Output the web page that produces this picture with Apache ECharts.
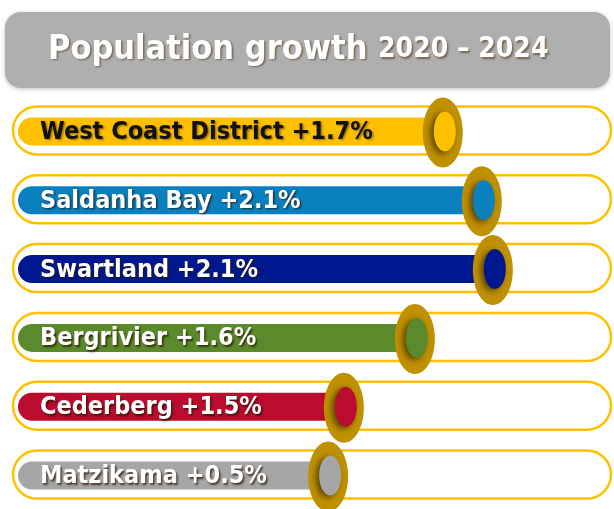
<!DOCTYPE html>
<html>
<head>
<meta charset="utf-8">
<script src="https://cdn.jsdelivr.net/npm/echarts@6/dist/echarts.min.js"></script>
<style>
  html, body { margin: 0; padding: 0; background: #fff; }
  #chart { width: 614px; height: 509px; }
</style>
</head>
<body>
<div id="chart"></div>
<script>
// values
var districts = ['West Coast District', 'Saldanha Bay', 'Swartland', 'Bergrivier', 'Cederberg', 'Matzikama'];
var growth = [1.7, 2.1, 2.1, 1.6, 1.5, 0.5];
// how far each bar reaches along its track, as drawn (0-100)
var barLevel = [72.3, 79.0, 80.9, 67.5, 55.3, 52.6];

var barColors = ['#FFC000', '#0A80BE', '#00188F', '#5B8A2C', '#BA0C2F', '#A6A6A6'];
var labelColors = ['#111', '#fff', '#fff', '#fff', '#fff', '#fff'];
var knobColor = '#BF9000';
var trackColor = '#FFC000';
var font = '"DejaVu Sans Condensed", "DejaVu Sans", sans-serif';

var chart = echarts.init(document.getElementById('chart'));

var rows = districts.map(function (name, i) {
    return [barLevel[i], i, growth[i]];
});

function renderRow(params, api) {
    var idx = api.value(1);
    var left = api.coord([0, idx]);
    var end = api.coord([api.value(0), idx]);
    var full = api.coord([100, idx]);
    var cy = left[1];
    var g = api.value(2);
    var label = districts[idx] + ' +' + g.toFixed(1) + '%';
    var color = barColors[idx];

    return {
        type: 'group',
        children: [
            {
                type: 'rect',
                shape: { x: left[0] - 9, y: cy - 24, width: full[0] - left[0] + 16, height: 48, r: 24 },
                style: { fill: '#fff', stroke: trackColor, lineWidth: 2.5 }
            },
            {
                type: 'rect',
                shape: { x: left[0] - 4, y: cy - 13, width: end[0] - left[0] + 4, height: 28, r: [14, 0, 0, 14] },
                style: { fill: color }
            },
            {
                type: 'text',
                style: {
                    text: label,
                    x: left[0] + 18,
                    y: cy + 2,
                    verticalAlign: 'middle',
                    fill: labelColors[idx],
                    font: 'bold 25px ' + font,
                    textShadowColor: idx === 0 ? 'rgba(90,60,0,0.6)' : 'rgba(40,20,0,0.75)',
                    textShadowBlur: 2,
                    textShadowOffsetX: 1.5,
                    textShadowOffsetY: 1.5
                }
            },
            {
                type: 'ellipse',
                shape: { cx: end[0], cy: cy + 2, rx: 20, ry: 35 },
                style: { fill: knobColor }
            },
            {
                type: 'ellipse',
                shape: { cx: end[0] + 2, cy: cy + 1, rx: 11, ry: 20 },
                style: {
                    fill: color,
                    shadowColor: 'rgba(0,0,0,0.55)',
                    shadowBlur: 6,
                    shadowOffsetX: -3,
                    shadowOffsetY: 2
                }
            }
        ]
    };
}

var titleShadow = {
    textShadowColor: 'rgba(70,40,0,0.55)', textShadowBlur: 2, textShadowOffsetX: 1.5, textShadowOffsetY: 1.5
};

chart.setOption({
    animation: false,
    graphic: [
        {
            type: 'rect',
            shape: { x: 5, y: 12, width: 605, height: 76, r: 16 },
            style: { fill: '#AFAFAF', shadowColor: 'rgba(0,0,0,0.25)', shadowBlur: 4, shadowOffsetY: 1 },
            z: 1
        },
        {
            type: 'text',
            x: 48,
            y: 50,
            style: {
                text: '{a|Population growth }{b|2020 – 2024}',
                verticalAlign: 'middle',
                fill: '#fff',
                rich: {
                    a: Object.assign({ fontFamily: font, fontWeight: 'bold', fontSize: 34, fill: '#fff' }, titleShadow),
                    b: Object.assign({ fontFamily: font, fontWeight: 'bold', fontSize: 28, fill: '#fff' }, titleShadow)
                }
            },
            z: 2
        }
    ],
    grid: { left: 22, right: 10, top: 96, height: 420 },
    xAxis: { type: 'value', min: 0, max: 100, show: false },
    yAxis: { type: 'category', data: districts, inverse: true, show: false },
    series: [{
        type: 'custom',
        renderItem: renderRow,
        data: rows,
        encode: { x: 0, y: 1 },
        clip: false
    }]
});
</script>
</body>
</html>
